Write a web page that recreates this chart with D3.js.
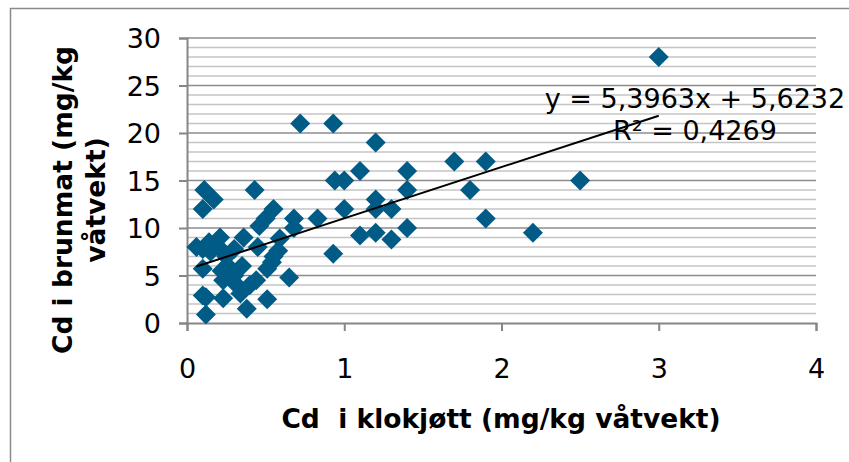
<!DOCTYPE html>
<html>
<head>
<meta charset="utf-8">
<script src="https://cdn.jsdelivr.net/npm/d3@7"></script>
<style>
  body { margin: 0; background: #fff; }
  svg { display: block; font-family: "DejaVu Sans", Verdana, sans-serif; }
</style>
</head>
<body>
<div id="wrapper"></div>
<script>
// Cd i klokjøtt (x) vs Cd i brunmat (y), mg/kg våtvekt
const xValues = [3.0, 2.5, 2.2, 1.9, 1.9, 1.8, 1.7, 1.4, 1.4, 1.4, 1.3, 1.3, 1.2, 1.2, 1.2, 1.2,
  1.1, 1.1, 1.0, 1.0, 0.94, 0.93, 0.93, 0.83, 0.72, 0.68, 0.68, 0.65,
  0.11, 0.17, 0.1, 0.43, 0.55, 0.5, 0.46, 0.36, 0.21, 0.14, 0.06, 0.1, 0.45, 0.59, 0.58,
  0.54, 0.51, 0.1, 0.26, 0.35, 0.23, 0.31, 0.44, 0.1, 0.23, 0.34, 0.51, 0.38, 0.12,
  0.27, 0.2, 0.3, 0.25, 0.3, 0.4, 0.55, 0.15, 0.22, 0.12]
const yValues = [28, 15, 9.5, 17, 11, 14, 17, 16, 14, 10, 12, 8.8, 19, 13, 12, 9.5,
  16, 9.2, 15, 12, 15, 21, 7.3, 11, 21, 11, 10, 4.8,
  14, 13, 12, 14, 12, 11, 10.2, 9, 9, 8.5, 8, 7.8, 8, 8.9, 7.6,
  6.4, 5.7, 5.7, 6, 6, 4.5, 4.1, 4.5, 2.9, 2.6, 3.1, 2.5, 1.5, 0.9,
  5.3, 8, 7.8, 7, 5, 4, 7, 7.5, 5.5, 2.7]
const xTicks = [0, 1, 2, 3, 4]
const yTicks = [0, 5, 10, 15, 20, 25, 30]
const trendSlope = 5.3963
const trendIntercept = 5.6232
const trendLabel = ["y = 5,3963x + 5,6232", "R² = 0,4269"]

const dataset = xValues.map((x, i) => ({ x: x, y: yValues[i] }))

const dimensions = {
  width: 849,
  height: 462,
  margin: { top: 38, right: 33, bottom: 139, left: 187 },
}
dimensions.boundedWidth = dimensions.width - dimensions.margin.left - dimensions.margin.right
dimensions.boundedHeight = dimensions.height - dimensions.margin.top - dimensions.margin.bottom

const wrapper = d3.select("#wrapper")
  .append("svg")
    .attr("width", dimensions.width)
    .attr("height", dimensions.height)

// outer chart border
wrapper.append("rect")
  .attr("x", 10.5)
  .attr("y", 8.5)
  .attr("width", 900)
  .attr("height", 600)
  .attr("fill", "none")
  .attr("stroke", "#8a8a8a")
  .attr("stroke-width", 1.5)

const bounds = wrapper.append("g")
  .attr("transform", `translate(${dimensions.margin.left},${dimensions.margin.top})`)

const xScale = d3.scaleLinear()
  .domain([0, 4])
  .range([0, dimensions.boundedWidth])

const yScale = d3.scaleLinear()
  .domain([0, 30])
  .range([dimensions.boundedHeight, 0])

// gridlines: minor every 1, major every 5
const minorTicks = d3.range(1, 30).filter(v => v % 5 !== 0)
bounds.append("g").selectAll("line")
  .data(minorTicks)
  .join("line")
    .attr("x1", 0)
    .attr("x2", dimensions.boundedWidth)
    .attr("y1", d => yScale(d))
    .attr("y2", d => yScale(d))
    .attr("stroke", "#c4c4c4")
    .attr("stroke-width", 1.6)

bounds.append("g").selectAll("line")
  .data(yTicks.filter(d => d > 0))
  .join("line")
    .attr("x1", 0)
    .attr("x2", dimensions.boundedWidth)
    .attr("y1", d => yScale(d))
    .attr("y2", d => yScale(d))
    .attr("stroke", "#8c8c8c")
    .attr("stroke-width", 1.6)

// axes
const yAxis = bounds.append("g")
  .call(d3.axisLeft(yScale).tickValues(yTicks).tickSize(8).tickPadding(18))
yAxis.selectAll(".tick text")
  .attr("font-size", "27px")
  .attr("font-family", "DejaVu Sans, sans-serif")
  .attr("fill", "#000")
  .attr("dy", "0.36em")

const xAxis = bounds.append("g")
  .attr("transform", `translate(0,${dimensions.boundedHeight})`)
  .call(d3.axisBottom(xScale).tickValues(xTicks).tickFormat(d3.format("d")).tickSize(8).tickPadding(28))
xAxis.selectAll(".tick text")
  .attr("font-size", "27px")
  .attr("font-family", "DejaVu Sans, sans-serif")
  .attr("fill", "#000")

bounds.selectAll(".domain, .tick line")
  .attr("stroke", "#868686")
  .attr("stroke-width", 2)

// diamond markers
const diamond = "M0,-10L10,0L0,10L-10,0Z"
bounds.append("g").selectAll("path")
  .data(dataset)
  .join("path")
    .attr("d", diamond)
    .attr("transform", d => `translate(${xScale(d.x)},${yScale(d.y)})`)
    .attr("fill", "#005c86")

// linear trendline across the data range
const xExtent = d3.extent(dataset, d => d.x)
bounds.append("line")
  .attr("x1", xScale(xExtent[0]))
  .attr("x2", xScale(xExtent[1]))
  .attr("y1", yScale(trendSlope * xExtent[0] + trendIntercept))
  .attr("y2", yScale(trendSlope * xExtent[1] + trendIntercept))
  .attr("stroke", "#000")
  .attr("stroke-width", 2)

wrapper.append("g")
  .selectAll("text")
  .data(trendLabel)
  .join("text")
    .attr("x", 695)
    .attr("y", (d, i) => 108 + i * 32)
    .attr("text-anchor", "middle")
    .attr("font-size", "27px")
    .text(d => d)

// axis titles
wrapper.append("text")
  .attr("x", 501)
  .attr("y", 428)
  .attr("text-anchor", "middle")
  .attr("font-size", "26.5px")
  .attr("font-weight", "bold")
  .style("white-space", "pre")
  .text("Cd  i klokjøtt (mg/kg våtvekt)")

const yTitle = wrapper.append("text")
  .attr("transform", "translate(0,200) rotate(-90)")
  .attr("text-anchor", "middle")
  .attr("font-size", "26.5px")
  .attr("font-weight", "bold")
yTitle.append("tspan").attr("x", 0).attr("y", 72).text("Cd i brunmat (mg/kg")
yTitle.append("tspan").attr("x", 0).attr("y", 105).text("våtvekt)")
</script>
</body>
</html>
